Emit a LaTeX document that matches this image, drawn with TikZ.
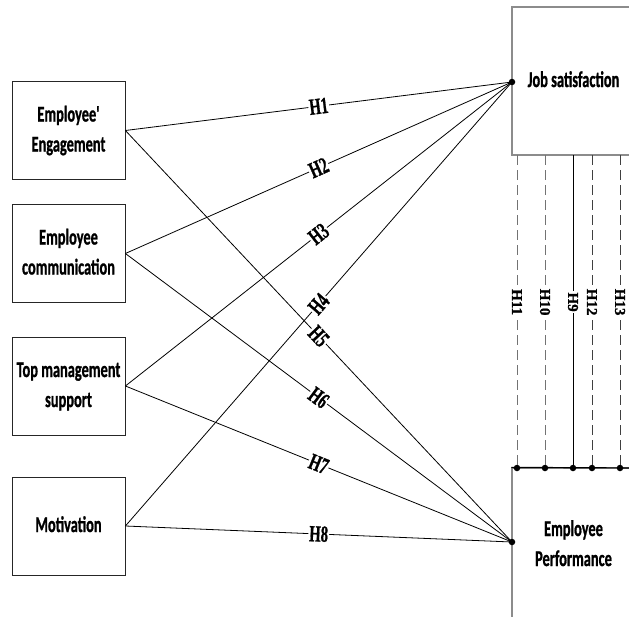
\documentclass[tikz,border=0pt]{standalone}
\usepackage{fontspec}
\setmainfont{Liberation Serif}[BoldFeatures={FakeBold=1.2}]
\newfontfamily\boxfont{Carlito}[BoldFeatures={FakeBold=1.2}]
\newcommand{\sqtext}[1]{\scalebox{0.64}[1]{\begin{tabular}{@{}c@{}}#1\end{tabular}}}
\newcommand{\sqh}[1]{\scalebox{0.64}[1]{#1}}
\begin{document}
\begin{tikzpicture}[x=1pt,y=-1pt,
  lbox/.style={draw=black!85,line width=0.8pt,minimum width=113pt,minimum height=98pt,inner sep=0pt,
    font=\boxfont\bfseries\fontsize{22.5}{30}\selectfont},
  rbox/.style={draw=black!45,line width=1.2pt,minimum width=123pt,inner sep=0pt,
    font=\boxfont\bfseries\fontsize{22.5}{30}\selectfont},
  dot/.style={circle,fill=black,inner sep=0pt,minimum size=6.5pt},
  link/.style={draw=black,line width=0.8pt},
  hlab/.style={sloped,fill=white,inner sep=1pt,font=\bfseries\fontsize{23}{24}\selectfont},
  vlab/.style={rotate=-90,fill=white,inner sep=1.2pt,font=\bfseries\fontsize{15}{16}\selectfont},
  dashlink/.style={line width=0.8pt,dash pattern=on 10pt off 5pt},
]
\useasboundingbox (0,0) rectangle (629,616);
\clip (0,0) rectangle (629,616);

% left boxes
\node[lbox] (b1) at (68.5,130.5) {\sqtext{Employee'\\Engagement}};
\node[lbox] (b2) at (68.5,253.5) {\sqtext{Employee\\communication}};
\node[lbox] (b3) at (68.5,386) {\sqtext{Top management\\support}};
\node[lbox] (b4) at (68.5,526) {\sqtext{Motivation}};

% right boxes (extend past the right edge)
\node[rbox,minimum height=148pt] (js) at (573.5,81) {\sqtext{Job satisfaction}};
\node[rbox,minimum height=154pt] (ep) at (573.5,545) {\sqtext{Employee\\Performance}};

% connection dots
\node[dot] (jsd) at (512,82) {};
\node[dot] (epd) at (512,542) {};

% diagonal links
\draw[link] (b1.east) -- (jsd.center) node[hlab,midway] {\sqh{H1}};
\draw[link] (b2.east) -- (jsd.center) node[hlab,midway] {\sqh{H2}};
\draw[link] (b3.east) -- (jsd.center) node[hlab,midway] {\sqh{H3}};
\draw[link] (b4.east) -- (jsd.center) node[hlab,midway] {\sqh{H4}};
\draw[link] (b1.east) -- (epd.center) node[hlab,midway] {\sqh{H5}};
\draw[link] (b2.east) -- (epd.center) node[hlab,midway] {\sqh{H6}};
\draw[link] (b3.east) -- (epd.center) node[hlab,midway] {\sqh{H7}};
\draw[link] (b4.east) -- (epd.center) node[hlab,midway] {\sqh{H8}};

% vertical links between the two right boxes
\coordinate (t11) at (517,155);
\coordinate (t10) at (545,155);
\coordinate (t9)  at (573,155);
\coordinate (t12) at (592,155);
\coordinate (t13) at (620,155);
\coordinate (hend) at (640,468);
\draw[line width=1.2pt] (ep.north west) -- (hend);
\node[dot] (d11) at (517,468) {};
\node[dot] (d10) at (545,468) {};
\node[dot] (d9)  at (573,468) {};
\node[dot] (d12) at (592,468) {};
\node[dot] (d13) at (620,468) {};
\draw[dashlink,draw=black!55] (t11) -- (d11.center) node[vlab,pos=0.47] {H11};
\draw[dashlink,draw=black!55] (t10) -- (d10.center) node[vlab,pos=0.47] {H10};
\draw[link] (t9) -- (d9.center) node[vlab,pos=0.47] {H9};
\draw[dashlink,draw=black!75] (t12) -- (d12.center) node[vlab,pos=0.47] {H12};
\draw[dashlink,draw=black!75] (t13) -- (d13.center) node[vlab,pos=0.47] {H13};
\end{tikzpicture}
\end{document}
